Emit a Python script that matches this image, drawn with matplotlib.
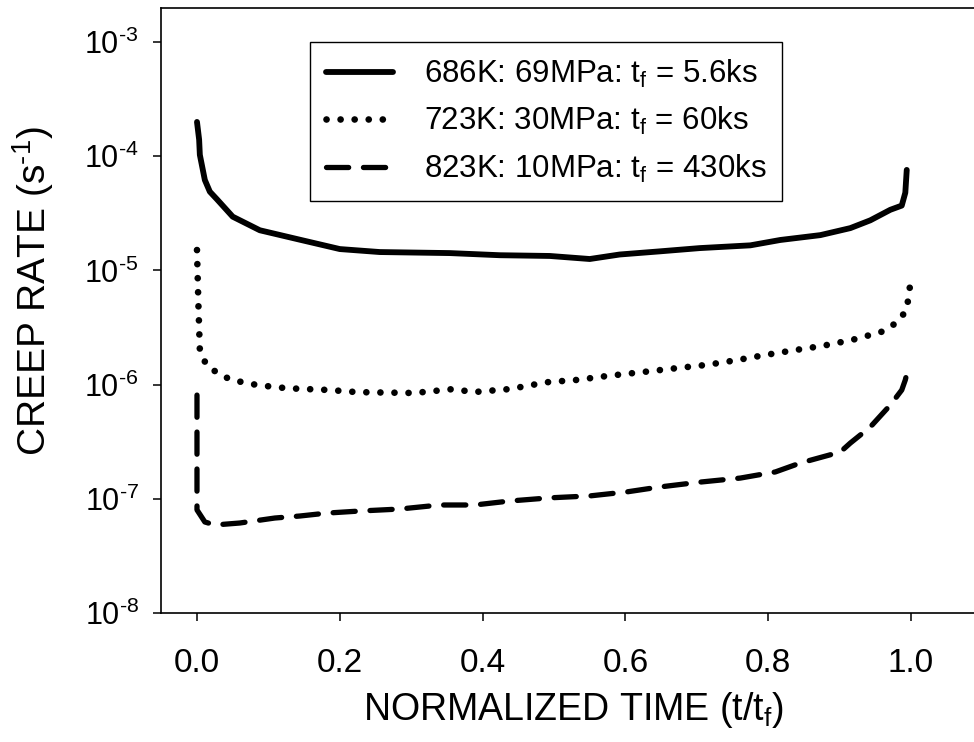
import matplotlib
matplotlib.use('Agg')
import matplotlib.pyplot as plt
import matplotlib.lines as mlines
from matplotlib.ticker import NullLocator

plt.rcParams['font.family'] = ['Liberation Sans', 'DejaVu Sans']
plt.rcParams['mathtext.fontset'] = 'custom'
plt.rcParams['mathtext.rm'] = 'Liberation Sans'
plt.rcParams['mathtext.it'] = 'Liberation Sans:italic'

# 686K, 69MPa (solid)
t_686 = [0.000, 0.003, 0.004, 0.011, 0.018, 0.028, 0.050, 0.088, 0.144, 0.200,
         0.256, 0.354, 0.424, 0.494, 0.550, 0.592, 0.648, 0.704, 0.775, 0.817,
         0.873, 0.915, 0.943, 0.971, 0.987, 0.992, 0.994]
rate_686 = [2.0e-4, 1.4e-4, 1.03e-4, 6.2e-5, 4.9e-5, 4.2e-5, 2.96e-5, 2.25e-5, 1.86e-5, 1.54e-5,
            1.45e-5, 1.42e-5, 1.36e-5, 1.34e-5, 1.26e-5, 1.38e-5, 1.47e-5, 1.57e-5, 1.66e-5, 1.85e-5,
            2.04e-5, 2.35e-5, 2.75e-5, 3.4e-5, 3.7e-5, 4.8e-5, 7.6e-5]

# 723K, 30MPa (dotted)
t_723 = [0.000, 0.002, 0.004, 0.013, 0.029, 0.048, 0.085, 0.126, 0.186, 0.224,
         0.304, 0.359, 0.387, 0.438, 0.490, 0.532, 0.574, 0.634, 0.674, 0.714,
         0.756, 0.796, 0.838, 0.875, 0.917, 0.958, 0.979, 0.993, 0.997, 0.999]
rate_723 = [1.51e-5, 5.0e-6, 2.01e-6, 1.49e-6, 1.26e-6, 1.10e-6, 9.9e-7, 9.3e-7, 8.97e-7, 8.6e-7,
            8.45e-7, 9.15e-7, 8.6e-7, 9.15e-7, 1.05e-6, 1.10e-6, 1.19e-6, 1.31e-6, 1.40e-6, 1.49e-6,
            1.64e-6, 1.82e-6, 2.01e-6, 2.18e-6, 2.46e-6, 2.89e-6, 3.46e-6, 4.41e-6, 5.97e-6, 7.9e-6]

# 823K, 10MPa (dashed)
t_823 = [0.000, 0.000, 0.011, 0.025, 0.060, 0.109, 0.144, 0.182, 0.228, 0.284,
         0.340, 0.389, 0.438, 0.494, 0.550, 0.602, 0.648, 0.704, 0.761, 0.810,
         0.845, 0.901, 0.915, 0.943, 0.971, 0.987, 0.992, 0.996]
rate_823 = [8.1e-7, 8.0e-8, 6.27e-8, 5.9e-8, 6.14e-8, 6.79e-8, 7.07e-8, 7.5e-8, 7.82e-8, 8.14e-8,
            8.83e-8, 8.83e-8, 9.57e-8, 1.02e-7, 1.06e-7, 1.15e-7, 1.27e-7, 1.40e-7, 1.52e-7, 1.72e-7,
            2.06e-7, 2.57e-7, 3.08e-7, 4.26e-7, 6.63e-7, 8.97e-7, 1.10e-6, 1.40e-6]

labels = [r'686K: 69MPa: t$_\mathregular{f}$ = 5.6ks',
          r'723K: 30MPa: t$_\mathregular{f}$ = 60ks',
          r'823K: 10MPa: t$_\mathregular{f}$ = 430ks']

x_ticks = [0.0, 0.2, 0.4, 0.6, 0.8, 1.0]
y_ticks = [1e-8, 1e-7, 1e-6, 1e-5, 1e-4, 1e-3]
y_ticklabels = ['10$^{\\mathregular{\u2010%d}}$' % n for n in [8, 7, 6, 5, 4, 3]]

fig = plt.figure(figsize=(9.74, 7.42), dpi=100)
W, H = 974, 742
# axes box in pixels (right spine runs off the cropped scan)
ax = fig.add_axes([161 / W, (H - 613) / H, (985 - 161) / W, (613 - 8) / H])

ax.plot(t_686, rate_686, color='black', lw=4.2, solid_capstyle='round', label=labels[0])
ax.plot(t_723, rate_723, color='black', lw=4.8, dashes=(0.01, 2.1), dash_capstyle='round',
        label=labels[1])
ax.plot(t_823, rate_823, color='black', lw=3.8, dashes=(4.2, 2.8), dash_capstyle='round',
        label=labels[2])

ax.set_yscale('log')
ax.set_xlim(-0.0504, 1.1036)
ax.set_ylim(1e-8, 1.99e-3)
ax.set_xticks(x_ticks)
ax.set_xticklabels(['%.1f' % v for v in x_ticks], fontsize=24)
ax.set_yticks(y_ticks)
ax.set_yticklabels(y_ticklabels, fontsize=22)
ax.yaxis.set_minor_locator(NullLocator())

for s in ax.spines.values():
    s.set_linewidth(1.2)
ax.tick_params(axis='both', direction='out', length=6, width=1.1, color='black')
ax.tick_params(axis='x', pad=19)
ax.tick_params(axis='y', pad=10, right=True)
# right-hand ticks point inward
for tk in ax.yaxis.get_major_ticks():
    tk.tick2line.set_marker(mlines.TICKLEFT)

ax.set_xlabel(r'NORMALIZED TIME (t/t$_\mathregular{f}$)', fontsize=27, labelpad=8)
ax.set_ylabel('CREEP RATE (s$^{\\mathregular{\u20101}}$)', fontsize=28)
ax.yaxis.set_label_coords(-0.128, 0.532)

leg = ax.legend(loc='upper left', bbox_to_anchor=(310 / W, 1 - 42 / H),
                bbox_transform=fig.transFigure, borderaxespad=0, fontsize=22.5,
                frameon=True, fancybox=False, edgecolor='black', framealpha=1,
                handlelength=2.15, handletextpad=1.0, borderpad=0.5, labelspacing=0.5)
leg.get_frame().set_linewidth(1.0)

fig.savefig('out.png', dpi=100)
